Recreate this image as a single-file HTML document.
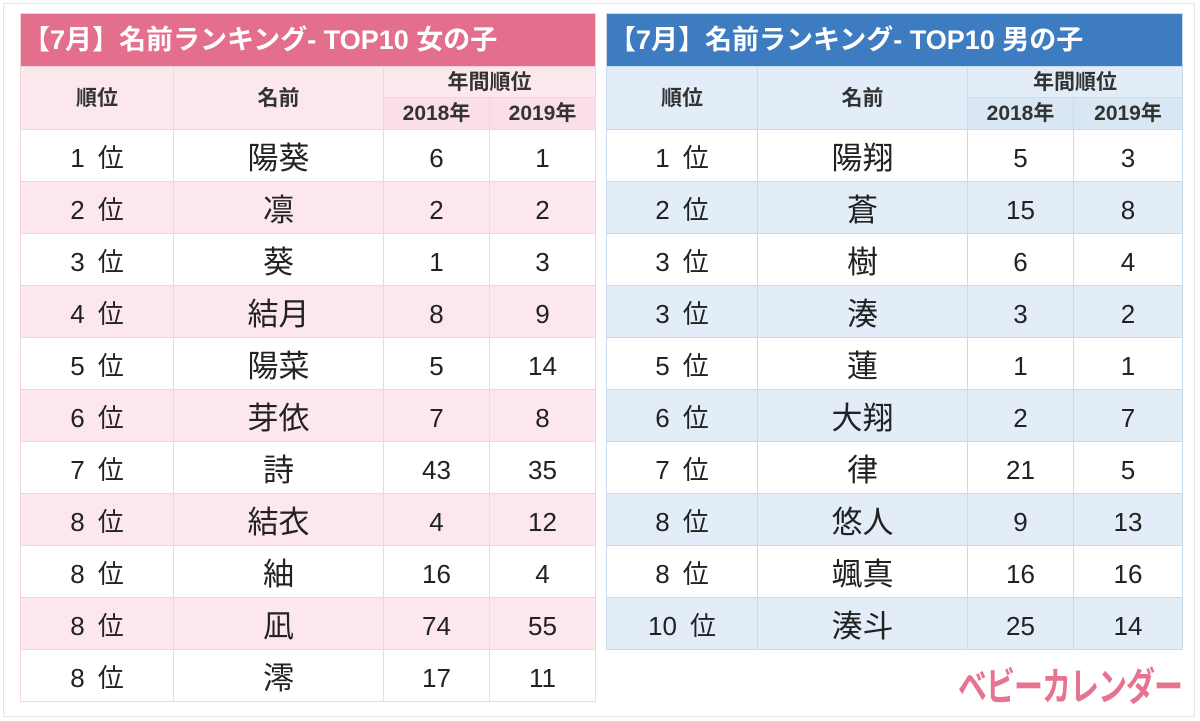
<!DOCTYPE html>
<html><head><meta charset="utf-8">
<style>
body{margin:0;width:1200px;height:721px;background:#fff;position:relative;overflow:hidden;font-family:"Liberation Sans","Noto Sans CJK JP",sans-serif;color:#222}
.frame{position:absolute;left:3px;top:3px;width:1190px;height:712px;border:1px solid #e6e6e6}
.tbl{position:absolute;border-collapse:collapse;table-layout:fixed}
.tbl td{text-align:center;padding:0;border:1px solid #fff;line-height:1;vertical-align:middle}
.title{height:52px;color:#fff;font-weight:bold;font-size:27px;text-align:left!important;white-space:nowrap}
.hd{font-weight:bold;font-size:21px;color:#333}
.row td{height:47px;font-size:26px;padding-top:4px}
.row td.nm{font-size:31px;height:45px;padding-top:6px;padding-bottom:0}
#girls{left:20px;top:13px}
#girls .title{background:#e46f8c;padding-left:2px}
#girls .hd{background:#fce8ec}
#girls .hd.sub{background:#fae0e6}
#girls td{border-color:#f6d4dc}
#girls .alt td{background:#fce8ec}
#boys{left:606px;top:13px}
#boys .title{background:#3d7cc0;padding-left:2px}
#boys .hd{background:#e3edf8}
#boys .hd.sub{background:#d9e6f4}
#boys td{border-color:#c9dcef}
#boys .alt td{background:#e3edf8}
.logo{position:absolute;left:958px;top:656px;font-size:29px;font-weight:bold;color:#e6738f;letter-spacing:-1px;white-space:nowrap;transform:scaleY(1.35);transform-origin:left top}
</style></head>
<body>
<div class="frame"></div>
<table class="tbl" id="girls">
<colgroup><col style="width:153px"><col style="width:210px"><col style="width:106px"><col style="width:106px"></colgroup>
<tr><td colspan="4" class="title">【7月】名前ランキング- TOP10 女の子</td></tr>
<tr style="height:31px"><td rowspan="2" class="hd">順位</td><td rowspan="2" class="hd">名前</td><td colspan="2" class="hd">年間順位</td></tr>
<tr style="height:32px"><td class="hd sub">2018年</td><td class="hd sub">2019年</td></tr>
<tbody id="gbody"></tbody>
</table>
<table class="tbl" id="boys">
<colgroup><col style="width:151px"><col style="width:210px"><col style="width:106px"><col style="width:109px"></colgroup>
<tr><td colspan="4" class="title">【7月】名前ランキング- TOP10 男の子</td></tr>
<tr style="height:31px"><td rowspan="2" class="hd">順位</td><td rowspan="2" class="hd">名前</td><td colspan="2" class="hd">年間順位</td></tr>
<tr style="height:32px"><td class="hd sub">2018年</td><td class="hd sub">2019年</td></tr>
<tbody id="bbody"></tbody>
</table>
<div class="logo">ベビーカレンダー</div>
<script>
const girlRanks=[1,2,3,4,5,6,7,8,8,8,8];
const girlNames=["陽葵","凛","葵","結月","陽菜","芽依","詩","結衣","紬","凪","澪"];
const girl2018=[6,2,1,8,5,7,43,4,16,74,17];
const girl2019=[1,2,3,9,14,8,35,12,4,55,11];
const boyRanks=[1,2,3,3,5,6,7,8,8,10];
const boyNames=["陽翔","蒼","樹","湊","蓮","大翔","律","悠人","颯真","湊斗"];
const boy2018=[5,15,6,3,1,2,21,9,16,25];
const boy2019=[3,8,4,2,1,7,5,13,16,14];
function fill(id,ranks,names,a,b){
  const tb=document.getElementById(id);
  ranks.forEach((r,i)=>{
    const tr=document.createElement('tr');
    tr.className='row'+(i%2?' alt':'');
    
    
    const vals=[r+'\u2002位',names[i],a[i],b[i]];
    vals.forEach((v,j)=>{
      const td=document.createElement('td');
      td.textContent=v;
      if(j===1)td.className='nm';
      
      
      tr.appendChild(td);
    });
    tb.appendChild(tr);
  });
}
fill('gbody',girlRanks,girlNames,girl2018,girl2019);
fill('bbody',boyRanks,boyNames,boy2018,boy2019);
</script>
</body></html>
